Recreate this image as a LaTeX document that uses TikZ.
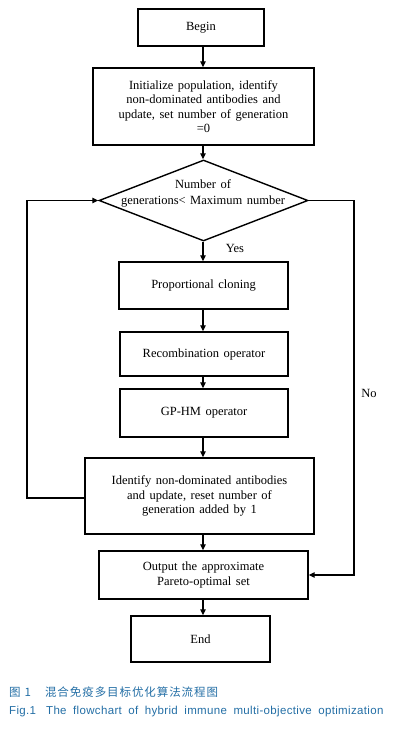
\documentclass[tikz,border=0pt]{standalone}
\usepackage{fontspec}
\setmainfont{Liberation Serif}
\newfontfamily\capsans{Liberation Sans}
\newfontfamily\capcjk{Noto Sans CJK SC}
\usetikzlibrary{arrows.meta,shapes.geometric}
\definecolor{capblue}{RGB}{35,110,165}
\newcommand\boxfont{\fontsize{12.5}{14.4}\selectfont\spaceskip 4.5pt plus 1pt\relax}
\newcommand\decfont{\fontsize{12.5}{16}\selectfont\spaceskip 4.5pt plus 1pt\relax}
\newcommand\capfontA{\capcjk\fontsize{11.5}{13}\selectfont}
\newcommand\capfontB{\capsans\fontsize{11.5}{13}\selectfont\addfontfeatures{LetterSpace=3}\spaceskip 6.5pt\relax}
\begin{document}
\begin{tikzpicture}[x=1pt,y=-1pt,
  box/.style={draw,line width=1.4pt,inner sep=0pt,align=center,font=\boxfont},
  lbl/.style={inner sep=0pt,font=\boxfont},
  arr/.style={line width=1.2pt,-{Triangle[length=6pt,width=5.5pt]}},
  ln/.style={line width=1.2pt}]
\useasboundingbox (0,0) rectangle (418,729);
\coordinate (col) at (203,0);
\coordinate (lx) at (27,0);
\coordinate (rx) at (354,0);
\node[box,minimum width=126pt,minimum height=37pt] (begin) at (201,27.5) {Begin};
\node[box,minimum width=221pt,minimum height=77pt] (init) at (203.5,106.5)
  {Initialize population, identify\\non-dominated antibodies and\\update, set number of generation\\=0};
\node[draw,diamond,line width=1.4pt,minimum width=209pt,minimum height=81pt,inner sep=0pt] (dec) at (203.5,200.5) {};
\node[lbl,align=center,font=\decfont] (dectext) at (203,193) {Number of\\generations< Maximum number};
\node[box,minimum width=169pt,minimum height=47pt] (prop) at (203.5,285.5) {Proportional cloning};
\node[box,minimum width=168pt,minimum height=44pt] (recomb) at (204,354) {Recombination operator};
\node[box,minimum width=168pt,minimum height=48pt] (gphm) at (204,413) {GP-HM operator};
\node[box,minimum width=229pt,minimum height=76pt] (ident) at (199.5,496)
  {Identify non-dominated antibodies\\and update, reset number of\\generation added by 1};
\node[box,minimum width=209pt,minimum height=48pt] (output) at (203.5,575)
  {Output the approximate\\Pareto-optimal set};
\node[box,minimum width=139pt,minimum height=46pt] (end) at (200.5,639) {End};
\node[lbl] (yes) at (235,248) {Yes};
\node[lbl] (no) at (369,393) {No};
\draw[arr] (begin.south -| col) -- (init.north -| col);
\draw[arr] (init.south -| col) -- (dec.north -| col);
\draw[arr] (dec.south -| col) -- (prop.north -| col);
\draw[arr] (prop.south -| col) -- (recomb.north -| col);
\draw[arr] (recomb.south -| col) -- (gphm.north -| col);
\draw[arr] (gphm.south -| col) -- (ident.north -| col);
\draw[arr] (ident.south -| col) -- (output.north -| col);
\draw[arr] (output.south -| col) -- (end.north -| col);
\draw[arr] ([yshift=-2pt]ident.west) -- ([yshift=-2pt]ident.west -| lx) |- (dec.west);
\draw[arr] (dec.east) -- (dec.east -| rx) |- (output.east);
\node[anchor=west,inner sep=0pt,text=capblue,font=\capfontA] (cap1) at (9,692)
  {图\hspace{4pt}1\hspace{14pt}\addfontfeatures{LetterSpace=8}混合免疫多目标优化算法流程图};
\node[anchor=west,inner sep=0pt,text=capblue,font=\capfontB] (cap2) at (9,712)
  {Fig.1\hspace{10pt}The flowchart of hybrid immune multi-objective optimization};
\end{tikzpicture}
\end{document}
